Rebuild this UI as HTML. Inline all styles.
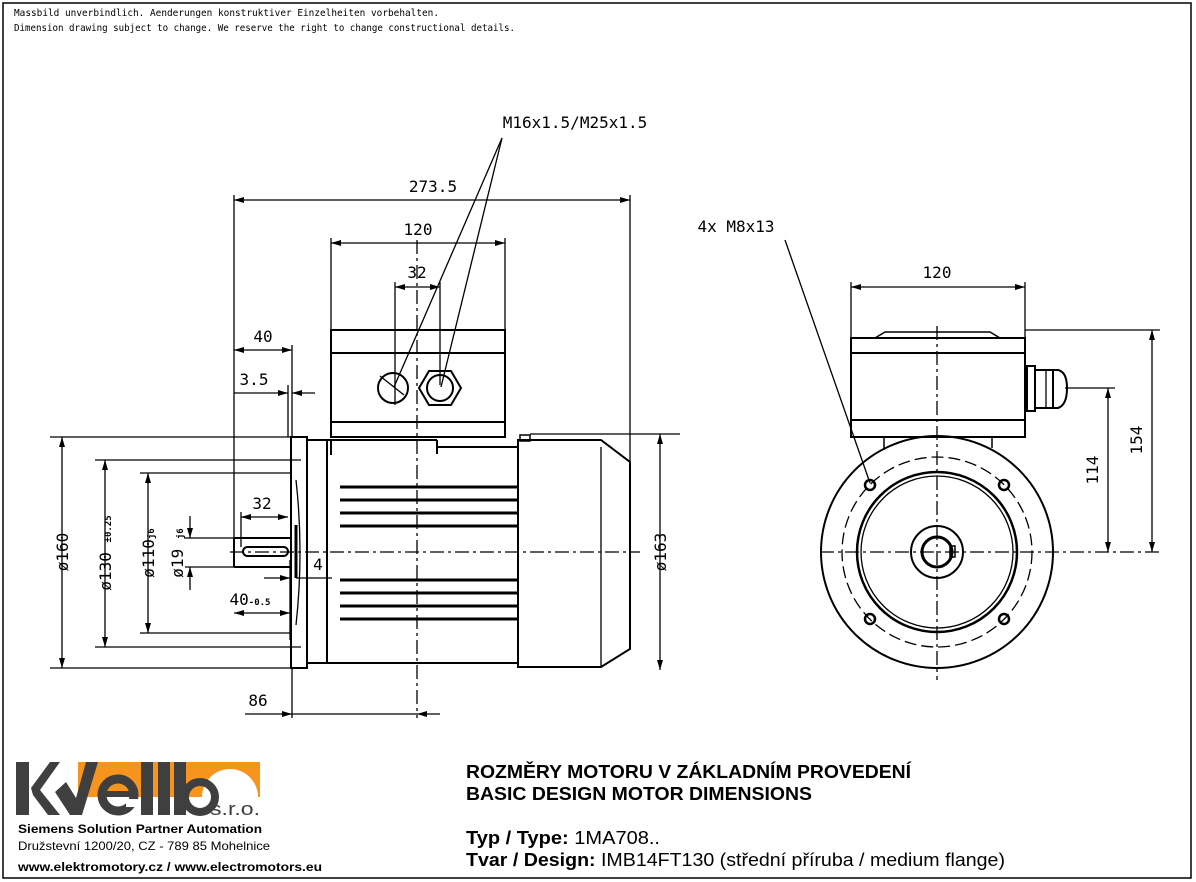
<!DOCTYPE html>
<html><head><meta charset="utf-8"><style>
html,body{margin:0;padding:0;background:#fff}
svg{display:block}
.m{font-family:"DejaVu Sans Mono","Liberation Mono",monospace;font-size:10px}
</style></head><body>
<svg width="1196" height="882" viewBox="0 0 1196 882" xmlns="http://www.w3.org/2000/svg">
<defs>
<marker id="a" viewBox="0 0 10 6" refX="10" refY="3" markerWidth="14" markerHeight="6" markerUnits="userSpaceOnUse" orient="auto-start-reverse"><path d="M0,0L10,3L0,6z" fill="#000"/></marker>
</defs>
<rect x="3" y="3" width="1188" height="875" fill="none" stroke="#000" stroke-width="1.5"/>
<text class="m" x="14" y="16" textLength="425" lengthAdjust="spacingAndGlyphs">Massbild unverbindlich. Aenderungen konstruktiver Einzelheiten vorbehalten.</text>
<text class="m" x="14" y="31" textLength="501" lengthAdjust="spacingAndGlyphs">Dimension drawing subject to change. We reserve the right to change constructional details.</text>

<g stroke="#000" fill="none" stroke-width="1.3">
<rect x="331" y="330" width="174" height="107" stroke-width="2"/>
<line x1="331" y1="353" x2="505" y2="353" stroke-width="2"/>
<line x1="331" y1="422" x2="505" y2="422" stroke-width="2"/>
<circle cx="393" cy="388" r="15" stroke-width="2"/>
<line x1="380" y1="376" x2="404" y2="395"/>
<polygon points="429,371 451,371 461,388 451,405 429,405 419,388" stroke-width="2"/>
<circle cx="440" cy="388" r="13" stroke-width="2"/>
<rect x="291" y="437" width="16" height="231" stroke-width="2"/>
<path d="M307,440 H437 M437,440 V454 M437,447 H518 M307,663 H518 M327,440 V663 M331,440 V455" stroke-width="2"/>
<g stroke-width="3">
<line x1="340" y1="487" x2="518" y2="487"/><line x1="340" y1="500" x2="518" y2="500"/><line x1="340" y1="513" x2="518" y2="513"/><line x1="340" y1="526" x2="518" y2="526"/>
<line x1="340" y1="580" x2="518" y2="580"/><line x1="340" y1="593" x2="518" y2="593"/><line x1="340" y1="606" x2="518" y2="606"/><line x1="340" y1="619" x2="518" y2="619"/>
</g>
<path d="M518,440 H601 L630,462 V649 L601,667 H518 Z" stroke-width="2"/>
<line x1="601" y1="447" x2="601" y2="667"/>
<rect x="520" y="435" width="10" height="6" stroke-width="1.5"/>
<path d="M234,538 H290 M234,567 H290 M234,538 V567" stroke-width="2"/>
<rect x="243" y="547" width="45" height="9" rx="4.5" stroke-width="2"/>
<line x1="296" y1="525" x2="296" y2="578" stroke-width="3"/>
<path d="M296,480 Q304,552 296,625"/>
<line x1="230" y1="552" x2="640" y2="552" stroke-dasharray="14,4,3,4"/>
<line x1="417" y1="240" x2="417" y2="718" stroke-dasharray="14,4,3,4"/>

<line x1="234" y1="195" x2="234" y2="540"/>
<line x1="630" y1="195" x2="630" y2="462"/>
<line x1="331" y1="238" x2="331" y2="330"/>
<line x1="505" y1="238" x2="505" y2="330"/>
<line x1="395" y1="282" x2="395" y2="405"/>
<line x1="440" y1="282" x2="440" y2="385"/>
<line x1="292" y1="345" x2="292" y2="437"/>
<line x1="288" y1="385" x2="288" y2="437"/>
<line x1="530" y1="434" x2="680" y2="434"/>
<line x1="50" y1="437" x2="291" y2="437"/>
<line x1="50" y1="668" x2="291" y2="668"/>
<line x1="95" y1="460" x2="301" y2="460"/>
<line x1="95" y1="647" x2="301" y2="647"/>
<line x1="140" y1="473" x2="290" y2="473"/>
<line x1="140" y1="633" x2="290" y2="633"/>
<line x1="185" y1="538" x2="234" y2="538"/>
<line x1="185" y1="567" x2="234" y2="567"/>
<line x1="241" y1="512" x2="241" y2="547"/>
<line x1="292" y1="668" x2="292" y2="718"/>
<line x1="290" y1="560" x2="290" y2="640"/>

<line x1="234" y1="200" x2="630" y2="200" marker-start="url(#a)" marker-end="url(#a)"/>
<line x1="331" y1="243" x2="505" y2="243" marker-start="url(#a)" marker-end="url(#a)"/>
<line x1="395" y1="287" x2="440" y2="287" marker-start="url(#a)" marker-end="url(#a)"/>
<line x1="234" y1="350" x2="292" y2="350" marker-start="url(#a)" marker-end="url(#a)"/>
<line x1="234" y1="393" x2="288" y2="393" marker-end="url(#a)"/>
<line x1="315" y1="393" x2="292" y2="393" marker-end="url(#a)"/>
<line x1="660" y1="434" x2="660" y2="670" marker-start="url(#a)" marker-end="url(#a)"/>
<line x1="62" y1="437" x2="62" y2="668" marker-start="url(#a)" marker-end="url(#a)"/>
<line x1="105" y1="460" x2="105" y2="647" marker-start="url(#a)" marker-end="url(#a)"/>
<line x1="148" y1="473" x2="148" y2="633" marker-start="url(#a)" marker-end="url(#a)"/>
<line x1="190" y1="516" x2="190" y2="538" marker-end="url(#a)"/>
<line x1="190" y1="590" x2="190" y2="567" marker-end="url(#a)"/>
<line x1="241" y1="517" x2="288" y2="517" marker-start="url(#a)" marker-end="url(#a)"/>
<line x1="234" y1="613" x2="290" y2="613" marker-start="url(#a)" marker-end="url(#a)"/>
<line x1="264" y1="578" x2="290" y2="578" marker-end="url(#a)"/>
<line x1="296" y1="578" x2="332" y2="578"/>
<line x1="245" y1="714" x2="292" y2="714" marker-end="url(#a)"/>
<line x1="292" y1="714" x2="417" y2="714"/>
<line x1="440" y1="714" x2="417" y2="714" marker-end="url(#a)"/>
<line x1="502" y1="138" x2="394" y2="387"/>
<line x1="502" y1="138" x2="441" y2="387"/>

<circle cx="937" cy="552" r="116" stroke-width="2"/>
<circle cx="937" cy="552" r="95" stroke-dasharray="12,5"/>
<circle cx="937" cy="552" r="80" stroke-width="2.5"/>
<circle cx="937" cy="552" r="76" stroke-width="1.3"/>
<circle cx="937" cy="552" r="26" stroke-width="2"/>
<circle cx="937" cy="552" r="15" stroke-width="3"/>
<rect x="950" y="546" width="5" height="11" stroke-width="1.5"/>
<g stroke-width="2.5"><circle cx="870" cy="485" r="5"/><circle cx="1004" cy="485" r="5"/><circle cx="870" cy="619" r="5"/><circle cx="1004" cy="619" r="5"/></g>
<line x1="820" y1="552" x2="1160" y2="552" stroke-dasharray="14,4,3,4"/>
<line x1="937" y1="326" x2="937" y2="680" stroke-dasharray="14,4,3,4"/>
<rect x="851" y="338" width="174" height="99" stroke-width="2"/>
<line x1="851" y1="353" x2="1025" y2="353" stroke-width="2"/>
<line x1="851" y1="420" x2="1025" y2="420" stroke-width="2"/>
<path d="M851,338 L875,338 L885,332 H990 L1000,338 H1025" stroke-width="1.5"/>
<path d="M884,437 V450 M992,437 V448" stroke-width="1.5"/>
<rect x="1027" y="366" width="8" height="45" stroke-width="2"/>
<path d="M1035,370 H1058 Q1067,372 1067,388 Q1067,405 1058,408 H1035" stroke-width="2"/>
<line x1="1046" y1="370" x2="1046" y2="408"/><line x1="1053" y1="370" x2="1053" y2="408" stroke-width="2"/>
<line x1="851" y1="282" x2="851" y2="338"/>
<line x1="1025" y1="282" x2="1025" y2="338"/>
<line x1="851" y1="287" x2="1025" y2="287" marker-start="url(#a)" marker-end="url(#a)"/>
<line x1="1025" y1="330" x2="1160" y2="330"/>
<line x1="1065" y1="388" x2="1115" y2="388"/>
<line x1="1108" y1="388" x2="1108" y2="552" marker-start="url(#a)" marker-end="url(#a)"/>
<line x1="1152" y1="330" x2="1152" y2="552" marker-start="url(#a)" marker-end="url(#a)"/>
<line x1="785" y1="240" x2="870" y2="483"/>
</g>

<g font-family="DejaVu Sans Mono, Liberation Mono, monospace" font-size="16" text-anchor="middle">
<text x="575" y="128">M16x1.5/M25x1.5</text>
<text x="433" y="192">273.5</text>
<text x="418" y="235">120</text>
<text x="417" y="278">32</text>
<text x="263" y="342">40</text>
<text x="254" y="385">3.5</text>
<text x="262" y="509">32</text>
<text x="318" y="570">4</text>
<text x="250" y="605">40<tspan font-size="9" font-weight="bold">-0.5</tspan></text>
<text x="258" y="706">86</text>
<text x="736" y="232">4x M8x13</text>
<text x="937" y="278">120</text>
<text transform="translate(666,552) rotate(-90)">ø163</text>
<text transform="translate(68,552) rotate(-90)">ø160</text>
<text transform="translate(111,553) rotate(-90)">ø130 <tspan font-size="9" font-weight="bold">±0.25</tspan></text>
<text transform="translate(154,553) rotate(-90)">ø110<tspan font-size="9" font-weight="bold">j6</tspan></text>
<text transform="translate(183,553) rotate(-90)">ø19 <tspan font-size="9" font-weight="bold">j6</tspan></text>
<text transform="translate(1098,470) rotate(-90)">114</text>
<text transform="translate(1142,440) rotate(-90)">154</text>
</g>

<g>
<path d="M78,762 H260 V797 H258 A28,28 0 0 0 202,797 H78 Z" fill="#f7941d"/>
<rect x="16" y="762" width="13" height="53" fill="#3f3f3f"/>
<polygon points="31,788 50,762 60,762 40,790 60,815 48,815 33,795" fill="#3f3f3f"/>
<polygon points="55,792 70,815 82,815 98,762 86,762 76,798 66,782" fill="#3f3f3f"/>
<circle cx="118" cy="795" r="16" fill="none" stroke="#3f3f3f" stroke-width="9"/>
<rect x="104" y="791" width="28" height="6" fill="#3f3f3f"/>
<rect x="126" y="799" width="12" height="8" fill="#fff"/>
<rect x="141" y="762" width="12" height="53" fill="#3f3f3f"/>
<rect x="158" y="762" width="12" height="53" fill="#3f3f3f"/>
<rect x="174" y="762" width="12" height="53" fill="#3f3f3f"/>
<circle cx="200" cy="797" r="15" fill="none" stroke="#3f3f3f" stroke-width="8"/>
<text x="210" y="815" font-family="Liberation Sans,sans-serif" font-size="18" fill="#3f3f3f" textLength="50" lengthAdjust="spacingAndGlyphs">s.r.o.</text>
</g>
<g font-family="Liberation Sans, sans-serif" font-size="12">
<text x="18" y="833" font-weight="bold" textLength="244" lengthAdjust="spacingAndGlyphs">Siemens Solution Partner Automation</text>
<text x="18" y="850" textLength="252" lengthAdjust="spacingAndGlyphs">Družstevní 1200/20, CZ - 789 85 Mohelnice</text>
<text x="18" y="871" font-weight="bold" textLength="304" lengthAdjust="spacingAndGlyphs">www.elektromotory.cz / www.electromotors.eu</text>
</g>
<g font-family="Liberation Sans, sans-serif" font-size="18">
<text x="466" y="778" font-weight="bold" textLength="445" lengthAdjust="spacingAndGlyphs">ROZMĚRY MOTORU V ZÁKLADNÍM PROVEDENÍ</text>
<text x="466" y="800" font-weight="bold" textLength="346" lengthAdjust="spacingAndGlyphs">BASIC DESIGN MOTOR DIMENSIONS</text>
<text x="466" y="844" textLength="194" lengthAdjust="spacingAndGlyphs"><tspan font-weight="bold">Typ / Type:</tspan> 1MA708..</text>
<text x="466" y="866" textLength="539" lengthAdjust="spacingAndGlyphs"><tspan font-weight="bold">Tvar / Design:</tspan> IMB14FT130 (střední příruba / medium flange)</text>
</g>
</svg>
</body></html>
